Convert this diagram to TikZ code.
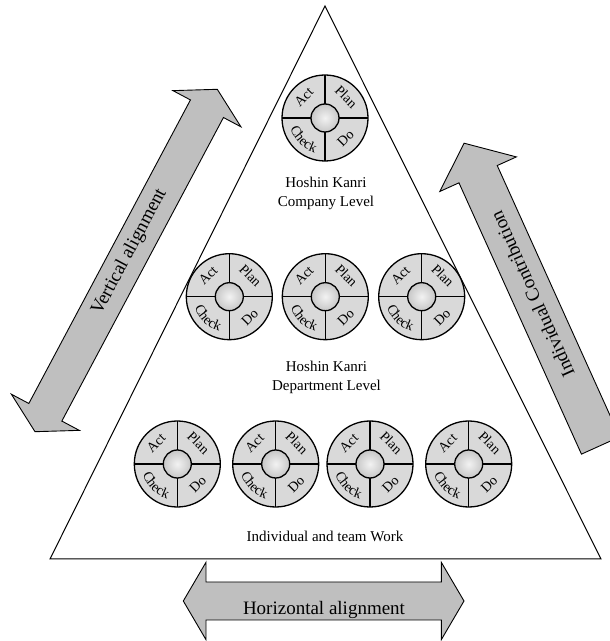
\documentclass[tikz,border=0pt]{standalone}
\usepackage{fontspec}
\setmainfont{Liberation Serif}
\usetikzlibrary{decorations.text}
\begin{document}
\begin{tikzpicture}[x=1pt,y=1pt,
  arrowbox/.style={fill=black!25, draw=black, line width=0.9pt, line join=miter},
  pdcalabel/.style={font=\fontsize{14}{14}\selectfont, inner sep=0pt},
  leveltext/.style={font=\fontsize{15}{19}\selectfont, align=center, inner sep=0pt},
  arrowtext/.style={font=\fontsize{19}{19}\selectfont, inner sep=0pt},
  pdca/.pic={
    \fill[black!15] (0,0) circle[radius=43pt];
    \shade[inner color=black!5, outer color=black!22] (0,0) circle[radius=14pt];
    \draw[line width=1.3pt] (-43pt,0) -- (-14pt,0) (14pt,0) -- (43pt,0)
                            (0,-43pt) -- (0,-14pt) (0,14pt) -- (0,43pt);
    \draw[line width=1.3pt] (0,0) circle[radius=14pt];
    \draw[line width=1.3pt] (0,0) circle[radius=43pt];
    \node[pdcalabel, rotate=45]  (-act)   at (135:30pt) {Act};
    \node[pdcalabel, rotate=-45] (-plan)  at (45:30pt)  {Plan};
    \path[decorate, decoration={text along path, text align=center,
          text={|\fontsize{14}{14}\selectfont|Check}}]
      (196:36pt) arc[start angle=196, end angle=254, radius=36pt];
    \node[pdcalabel, rotate=45]  (-do)    at (315:29pt) {Do};
  }]
\useasboundingbox (0,0) rectangle (610,641);
\clip (0,0) rectangle (610,641);

% pyramid
\draw[line width=1pt, line join=miter] (325,635) -- (50,82) -- (601,82) -- cycle;

% PDCA circles
\pic (top) at (325,523) {pdca};
\pic (m1) at (229.3,344.3) {pdca};
\pic (m2) at (325.3,344.3) {pdca};
\pic (m3) at (421.7,344.3) {pdca};
\pic (b1) at (177.3,177) {pdca};
\pic (b2) at (275.7,177) {pdca};
\pic (b3) at (370,177) {pdca};
\pic (b4) at (468.7,177) {pdca};

% level texts
\node[leveltext] (lvl1) at (326,447.3) {Hoshin Kanri\\Company Level};
\node[leveltext] (lvl2) at (326.5,264) {Hoshin Kanri\\Department Level};
\node[leveltext] (lvl3) at (325,104.3) {Individual and team Work};

% vertical alignment arrow
\begin{scope}[shift={(35,209.3)}, rotate=61.97]
  \draw[arrowbox] (0,0) -- (22,38.5) -- (22,18.7) -- (365.9,18.7) -- (365.9,38.5)
    -- (387.9,0) -- (365.9,-38.5) -- (365.9,-18.7) -- (22,-18.7) -- (22,-38.5) -- cycle;
  \node[arrowtext, transform shape] (valign) at (203,1) {Vertical alignment};
\end{scope}

% horizontal alignment arrow
\begin{scope}[shift={(183.3,40)}]
  \draw[arrowbox] (0,0) -- (22.7,38.7) -- (22.7,19) -- (258,19) -- (258,38.7)
    -- (280.7,0) -- (258,-38.7) -- (258,-19) -- (22.7,-19) -- (22.7,-38.7) -- cycle;
\end{scope}
\node[arrowtext, anchor=base] (halign) at (324,27) {Horizontal alignment};

% individual contribution arrow
\begin{scope}[shift={(600.6,195.5)}, rotate=114.3]
  \draw[arrowbox] (0,21) -- (297.7,21) -- (297.7,42) -- (331.7,0) -- (297.7,-42)
    -- (297.7,-21) -- (0,-21) -- cycle;
  \node[arrowtext, transform shape] (icontrib) at (166,0) {Individual Contribution};
\end{scope}
\end{tikzpicture}
\end{document}
